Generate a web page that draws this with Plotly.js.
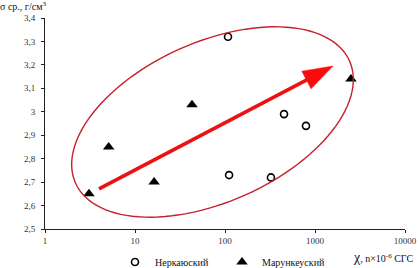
<!DOCTYPE html>
<html><head><meta charset="utf-8">
<script src="https://cdn.plot.ly/plotly-3.0.1.min.js"></script>
<style>html,body{margin:0;padding:0;background:#fff}#c{width:418px;height:268px}</style>
</head><body><div id="c"></div>
<script>
// Data
const nerkX = [108, 453, 794, 111, 324];
const nerkY = [3.32, 2.99, 2.94, 2.73, 2.72];
const marX = [3.08, 5.1, 16.3, 43, 2510];
const marY = [2.65, 2.85, 2.70, 3.03, 3.14];
const seriesNames = ['Неркаюский', 'Марункеуский'];
const yTickVals = [2.5, 2.6, 2.7, 2.8, 2.9, 3.0, 3.1, 3.2, 3.3, 3.4];
const yTickText = ['2,5', '2,6', '2,7', '2,8', '2,9', '3', '3,1', '3,2', '3,3', '3,4'];
const xTickVals = [1, 10, 100, 1000, 10000];
const xTickText = ['1', '10', '100', '1000', '10000'];
// trend arrow (data units)
const arrowStart = [3.98, 2.671];
const arrowTip = [1585, 3.195];

// Layout geometry
const W = 418, H = 268, M = {l: 45, r: 13, t: 18, b: 39, autoexpand: false};
const PW = W - M.l - M.r, PH = H - M.t - M.b;
const xr = [0, 4], yr = [2.5, 3.4];
const toPx = (x) => M.l + (Math.log10(x) - xr[0]) / (xr[1] - xr[0]) * PW;
const toPy = (y) => M.t + PH - (y - yr[0]) / (yr[1] - yr[0]) * PH;
const pxToPaper = (px) => (px - M.l) / PW;
const pyToPaper = (py) => (M.t + PH - py) / PH;

// Ellipse (pixel-space decoration)
const ell = {cx: 212.5, cy: 122, a: 150, b: 80, th: 24 * Math.PI / 180};
let ep = '';
for (let i = 0; i <= 120; i++) {
  const t = i / 120 * 2 * Math.PI;
  const px = ell.cx + ell.a * Math.cos(t) * Math.cos(ell.th) - ell.b * Math.sin(t) * Math.sin(ell.th);
  const py = ell.cy - (ell.a * Math.cos(t) * Math.sin(ell.th) + ell.b * Math.sin(t) * Math.cos(ell.th));
  ep += (i === 0 ? 'M' : 'L') + pxToPaper(px).toFixed(5) + ',' + pyToPaper(py).toFixed(5);
}
ep += 'Z';

// Arrow
const sx = toPx(arrowStart[0]), sy = toPy(arrowStart[1]);
const tx = toPx(arrowTip[0]), ty = toPy(arrowTip[1]);
const len = Math.hypot(tx - sx, ty - sy);
const ux = (tx - sx) / len, uy = (ty - sy) / len;
const hl = 30, hw = 10;
const bx = tx - hl * ux, by = ty - hl * uy;
const c1 = [bx - hw * uy, by + hw * ux], c2 = [bx + hw * uy, by - hw * ux];
const P = (x, y) => pxToPaper(x).toFixed(5) + ',' + pyToPaper(y).toFixed(5);
const linePath = 'M' + P(sx, sy) + 'L' + P(bx + 2 * ux, by + 2 * uy);
const headPath = 'M' + P(tx, ty) + 'L' + P(c1[0], c1[1]) + 'L' + P(c2[0], c2[1]) + 'Z';

const serif = 'Liberation Serif, Times New Roman, serif';
const data = [
  {x: nerkX, y: nerkY, type: 'scatter', mode: 'markers', name: seriesNames[0],
   marker: {symbol: 'circle-open', size: 7, color: '#000', line: {width: 1.6, color: '#000'}}},
  {x: marX, y: marY, type: 'scatter', mode: 'markers', name: seriesNames[1],
   marker: {symbol: 'triangle-up', size: 10, color: '#000'}}
];
const layout = {
  width: W, height: H, margin: M,
  paper_bgcolor: '#fff', plot_bgcolor: '#fff',
  font: {family: serif, size: 9, color: '#222'},
  showlegend: true,
  legend: {orientation: 'h', x: pxToPaper(222), xanchor: 'center', y: pyToPaper(262), yanchor: 'middle',
           font: {family: serif, size: 10, color: '#111'}, itemwidth: 30, tracegroupgap: 0,
           entrywidth: 62, bgcolor: 'rgba(0,0,0,0)'},
  xaxis: {type: 'log', range: xr, tickvals: xTickVals, ticktext: xTickText,
          showgrid: false, zeroline: false, showline: true, linecolor: '#222', linewidth: 1,
          ticks: 'outside', ticklen: 3, tickcolor: '#222', tickfont: {family: serif, size: 9, color: '#333'}},
  yaxis: {range: yr, tickvals: yTickVals, ticktext: yTickText,
          showgrid: false, zeroline: false, showline: true, linecolor: '#222', linewidth: 1,
          ticks: 'outside', ticklen: 3, tickcolor: '#222', ticklabelstandoff: 4,
          tickfont: {family: serif, size: 9, color: '#333'}},
  shapes: [
    {type: 'path', xref: 'paper', yref: 'paper', path: ep, line: {color: '#c8202a', width: 1.4}},
    {type: 'path', xref: 'paper', yref: 'paper', path: linePath, line: {color: '#ee1111', width: 3.5}},
    {type: 'path', xref: 'paper', yref: 'paper', path: headPath, fillcolor: '#ff0a0a', line: {color: '#ff0a0a', width: 0.5}}
  ],
  annotations: [
    {xref: 'paper', yref: 'paper', x: pxToPaper(-2), y: pyToPaper(6), xanchor: 'left', yanchor: 'middle',
     showarrow: false, text: 'σ ср., г/см<sup>3</sup>', font: {family: serif, size: 10, color: '#111'}},
    {xref: 'paper', yref: 'paper', x: pxToPaper(416), y: pyToPaper(257), xanchor: 'right', yanchor: 'middle',
     showarrow: false, text: '<span style="font-size:14px">χ</span>, n×10<sup>-6</sup> СГС',
     font: {family: serif, size: 10, color: '#111'}}
  ]
};
Plotly.newPlot('c', data, layout, {staticPlot: true, displayModeBar: false});
</script></body></html>
